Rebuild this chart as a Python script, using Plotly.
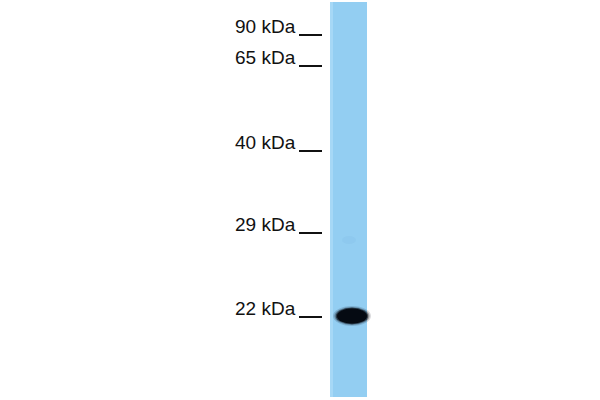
import plotly.graph_objects as go

# ladder: marker sizes and the row (px from top) of each tick line
marker_kda = [90, 65, 40, 29, 22]
marker_row = [35, 66, 151, 233, 317]

# lane extent (image px)
lane_left, lane_right = 330, 367
lane_top, lane_bottom = 2, 397

# detected band: centre, half sizes
band_x, band_row = 352, 316
band_halfw, band_halfh = 15, 7.5

fig = go.Figure()

# the lane itself
fig.add_trace(go.Bar(
    x=[(lane_left + lane_right) / 2],
    y=[lane_bottom - lane_top],
    base=[lane_top],
    width=[lane_right - lane_left],
    marker_color="#93cef2",
    marker_line_width=0,
    hoverinfo="skip",
))

# faint lighter strip on left edge of lane
fig.add_shape(type="rect", x0=lane_left, x1=lane_left + 3, y0=lane_top, y1=lane_bottom,
              fillcolor="#a6d8f6", line_width=0, layer="above")

# faint smudge near 29 kDa
fig.add_shape(type="circle", x0=342, x1=356, y0=236, y1=244,
              fillcolor="#5a9fd0", opacity=0.08, line_width=0, layer="above")

# band, soft edge built up from a few ellipses
for grow, op in [(4, 0.15), (2.5, 0.3), (1.2, 0.6), (0, 1.0)]:
    fig.add_shape(type="circle",
                  x0=band_x - band_halfw - grow, x1=band_x + band_halfw + grow,
                  y0=band_row - band_halfh - grow * 0.6, y1=band_row + band_halfh + grow * 0.6,
                  fillcolor="#050a12", opacity=op, line_width=0, layer="above")

# ladder labels and tick lines
for kda, row in zip(marker_kda, marker_row):
    fig.add_annotation(x=298, y=row - 9, text=f"{kda} kDa", showarrow=False,
                       xanchor="right", yanchor="middle",
                       font=dict(family="Liberation Sans, Arial", size=19, color="#111111"))
    fig.add_shape(type="line", x0=299, x1=322, y0=row, y1=row,
                  line=dict(color="#111111", width=2))

fig.update_layout(
    width=600, height=400,
    margin=dict(l=0, r=0, t=0, b=0),
    plot_bgcolor="white", paper_bgcolor="white",
    showlegend=False,
    bargap=0,
)
fig.update_xaxes(range=[0, 600], visible=False, fixedrange=True)
fig.update_yaxes(range=[400, 0], visible=False, fixedrange=True)

# drop the page's default body margin so the figure sits at the window corner
fig.write_html("out.html", config={"displayModeBar": False},
               post_script="document.body.style.margin='0';")
